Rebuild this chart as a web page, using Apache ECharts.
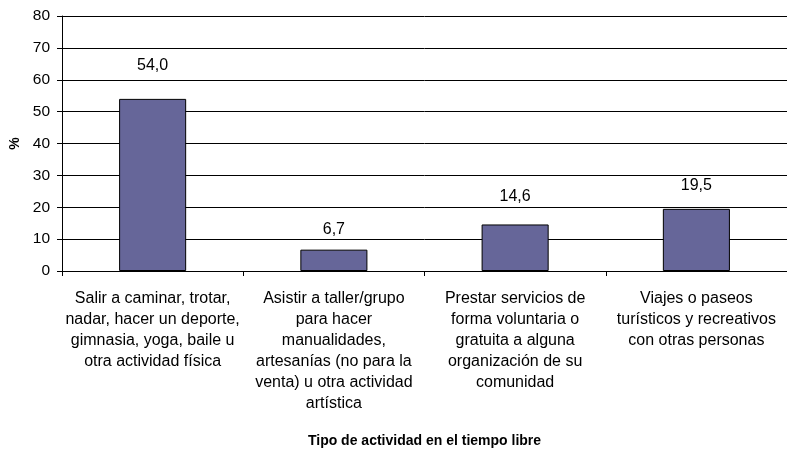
<!DOCTYPE html>
<html>
<head>
<meta charset="utf-8">
<script src="https://cdn.jsdelivr.net/npm/echarts@6/dist/echarts.min.js"></script>
<style>
  html, body { margin: 0; padding: 0; background: #fff; }
  #chart { width: 787px; height: 453px; }
</style>
</head>
<body>
<div id="chart"></div>
<script>
const categories = [
  'Salir a caminar, trotar,\nnadar, hacer un deporte,\ngimnasia, yoga, baile u\notra actividad física',
  'Asistir a taller/grupo\npara hacer\nmanualidades,\nartesanías (no para la\nventa) u otra actividad\nartística',
  'Prestar servicios de\nforma voluntaria o\ngratuita a alguna\norganización de su\ncomunidad',
  'Viajes o paseos\nturísticos y recreativos\ncon otras personas'
]
const values = [54.0, 6.7, 14.6, 19.5]
const yTicks = { min: 0, max: 80, interval: 10 }

// gap between bar top and its value label, as placed in the original
const labelGaps = [25, 12, 20, 15]

const font = 'Liberation Sans, Arial, sans-serif'

const chart = echarts.init(document.getElementById('chart'))

const options = {
  animation: false,
  grid: {
    left: 62,
    right: 0,
    top: 16,
    bottom: 182,
    containLabel: false,
    outerBoundsMode: 'none'
  },
  xAxis: {
    type: 'category',
    data: categories,
    name: 'Tipo de actividad en el tiempo libre',
    nameLocation: 'middle',
    nameGap: 163,
    nameTextStyle: { fontFamily: font, fontSize: 14, fontWeight: 'bold', color: '#000' },
    axisLine: { lineStyle: { color: '#000', width: 1 } },
    axisTick: { show: true, length: 5, lineStyle: { color: '#000' } },
    axisLabel: {
      interval: 0,
      margin: 17,
      fontFamily: font,
      fontSize: 16,
      lineHeight: 21,
      color: '#000'
    }
  },
  yAxis: {
    type: 'value',
    min: yTicks.min,
    max: yTicks.max,
    interval: yTicks.interval,
    name: '%',
    nameLocation: 'middle',
    nameGap: 37,
    nameRotate: 90,
    nameTextStyle: { fontFamily: font, fontSize: 14, fontWeight: 'bold', color: '#000' },
    axisLine: { show: true, lineStyle: { color: '#000', width: 1 } },
    axisTick: { show: true, length: 5, lineStyle: { color: '#000' } },
    axisLabel: { fontFamily: font, fontSize: 15.5, color: '#000', margin: 12 },
    splitLine: { show: true, lineStyle: { color: '#000', width: 1 } }
  },
  series: [
    {
      type: 'bar',
      data: values.map((v, i) => ({ value: v, label: { distance: labelGaps[i] } })),
      barWidth: '37%',
      itemStyle: { color: '#666699', borderColor: '#000', borderWidth: 1 },
      label: {
        show: true,
        position: 'top',
        fontFamily: font,
        fontSize: 16,
        color: '#000',
        formatter: p => p.value.toFixed(1).replace('.', ',')
      }
    }
  ]
}

chart.setOption(options)
</script>
</body>
</html>
